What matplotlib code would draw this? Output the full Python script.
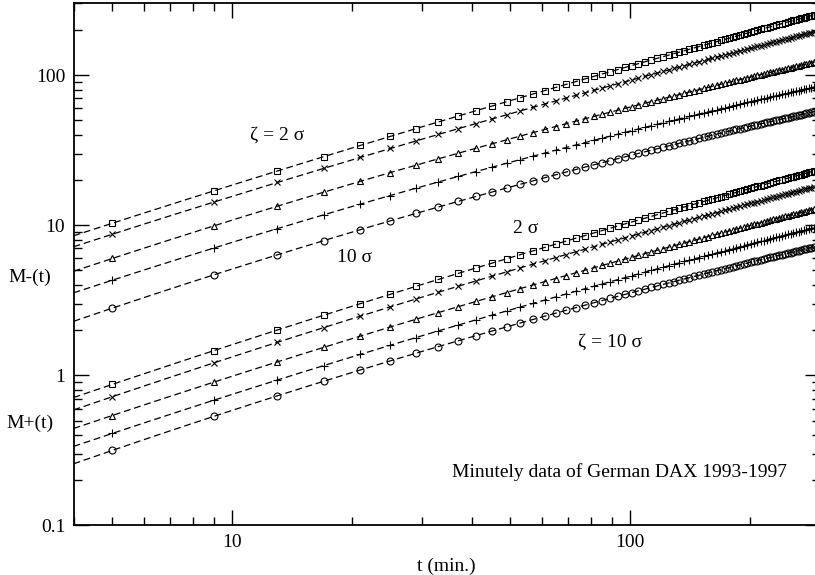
import numpy as np
import matplotlib
matplotlib.use('Agg')
import matplotlib.pyplot as plt
from matplotlib.ticker import LogLocator, NullFormatter

# sampling times (minutes)
t_min = [5, 9, 13, 17, 21, 25, 29, 33, 37, 41, 45, 49, 53, 57, 61, 65, 69, 73,
         77, 81, 85, 89, 93, 97, 101, 105, 109, 113, 117, 121, 125, 129, 133,
         137, 141, 145, 149, 153, 157, 161, 165, 169, 173, 177, 181, 185, 189,
         193, 197, 201, 205, 209, 213, 217, 221, 225, 229, 233, 237, 241, 245,
         249, 253, 257, 261, 265, 269, 273, 277, 281, 285, 289]

# M-(t), zeta = 2,4,6,8,10 sigma (top group)
m_minus_sq = [10.30, 16.93, 22.96, 28.60, 33.95, 39.07, 43.99, 48.74, 53.35, 57.83,
              62.18, 66.48, 70.65, 74.75, 78.77, 82.70, 86.58, 90.41, 94.19, 97.90,
              101.5, 105.2, 108.7, 112.3, 115.7, 119.2, 122.5, 126.0, 129.3, 132.6,
              135.8, 139.1, 142.3, 145.4, 148.6, 151.7, 154.8, 157.9, 160.9, 163.9,
              166.9, 169.9, 172.8, 175.8, 178.7, 181.6, 184.5, 187.3, 190.2, 193.0,
              195.8, 198.6, 201.4, 204.2, 206.9, 209.6, 212.3, 215.0, 217.6, 220.3,
              222.9, 225.6, 228.2, 230.8, 233.3, 235.9, 238.5, 241.1, 243.6, 246.1,
              248.6, 251.2]
m_minus_x = [8.70, 14.25, 19.25, 23.89, 28.27, 32.42, 36.40, 40.22, 43.92, 47.51,
             50.98, 54.37, 57.68, 60.92, 64.07, 67.17, 70.21, 73.18, 76.12, 79.00,
             81.82, 84.61, 87.36, 90.07, 92.75, 95.39, 97.97, 100.6, 103.1, 105.6,
             108.1, 110.6, 113.0, 115.4, 117.8, 120.1, 122.4, 124.7, 127.1, 129.3,
             131.6, 133.8, 136.0, 138.2, 140.4, 142.5, 144.7, 146.8, 148.9, 151.0,
             153.0, 155.1, 157.1, 159.2, 161.2, 163.2, 165.2, 167.2, 169.1, 171.1,
             173.1, 175.0, 176.9, 178.8, 180.7, 182.5, 184.4, 186.3, 188.1, 190.0,
             191.8, 193.6]
m_minus_tri = [6.00, 9.89, 13.38, 16.59, 19.59, 22.42, 25.11, 27.68, 30.16, 32.54,
               34.84, 37.07, 39.24, 41.35, 43.40, 45.39, 47.34, 49.26, 51.13, 52.97,
               54.76, 56.53, 58.28, 59.98, 61.65, 63.30, 64.92, 66.53, 68.09, 69.64,
               71.17, 72.67, 74.18, 75.63, 77.10, 78.52, 79.95, 81.36, 82.72, 84.09,
               85.44, 86.78, 88.08, 89.42, 90.73, 91.99, 93.26, 94.52, 95.79, 97.03,
               98.24, 99.45, 100.7, 101.8, 103.0, 104.2, 105.3, 106.5, 107.6, 108.8,
               109.9, 111.0, 112.2, 113.2, 114.3, 115.4, 116.5, 117.6, 118.6, 119.6,
               120.7, 121.8]
m_minus_plus = [4.30, 7.04, 9.49, 11.73, 13.81, 15.76, 17.63, 19.41, 21.11, 22.76,
                24.34, 25.86, 27.36, 28.80, 30.19, 31.56, 32.90, 34.20, 35.48, 36.73,
                37.95, 39.16, 40.33, 41.49, 42.63, 43.74, 44.84, 45.92, 46.99, 48.04,
                49.08, 50.08, 51.11, 52.09, 53.07, 54.05, 55.00, 55.93, 56.86, 57.79,
                58.69, 59.60, 60.48, 61.38, 62.26, 63.11, 63.96, 64.81, 65.67, 66.47,
                67.30, 68.09, 68.92, 69.71, 70.50, 71.28, 72.06, 72.84, 73.60, 74.37,
                75.12, 75.86, 76.60, 77.34, 78.05, 78.79, 79.50, 80.24, 80.93, 81.64,
                82.33, 83.04]
m_minus_circ = [2.80, 4.67, 6.35, 7.89, 9.33, 10.69, 11.98, 13.21, 14.40, 15.54,
                16.64, 17.70, 18.73, 19.73, 20.70, 21.65, 22.57, 23.47, 24.36, 25.22,
                26.07, 26.91, 27.71, 28.51, 29.29, 30.08, 30.83, 31.58, 32.31, 33.03,
                33.74, 34.44, 35.14, 35.82, 36.50, 37.16, 37.82, 38.46, 39.10, 39.74,
                40.36, 40.98, 41.59, 42.19, 42.80, 43.39, 43.96, 44.54, 45.12, 45.68,
                46.24, 46.78, 47.34, 47.89, 48.43, 48.97, 49.49, 50.03, 50.54, 51.05,
                51.57, 52.08, 52.58, 53.07, 53.57, 54.06, 54.56, 55.04, 55.51, 55.99,
                56.46, 56.94]

# M+(t), bottom group
m_plus_sq = [0.870, 1.460, 2.004, 2.515, 3.002, 3.468, 3.918, 4.353, 4.775, 5.187,
             5.588, 5.980, 6.366, 6.742, 7.112, 7.476, 7.830, 8.182, 8.531, 8.873,
             9.208, 9.539, 9.867, 10.19, 10.51, 10.83, 11.14, 11.45, 11.76, 12.06,
             12.35, 12.65, 12.95, 13.23, 13.52, 13.81, 14.10, 14.38, 14.66, 14.93,
             15.21, 15.48, 15.75, 16.02, 16.29, 16.55, 16.82, 17.08, 17.34, 17.60,
             17.85, 18.11, 18.37, 18.61, 18.86, 19.11, 19.36, 19.60, 19.85, 20.09,
             20.34, 20.57, 20.81, 21.04, 21.28, 21.52, 21.75, 21.99, 22.22, 22.45,
             22.68, 22.91]
m_plus_x = [0.720, 1.210, 1.660, 2.081, 2.479, 2.859, 3.225, 3.578, 3.920, 4.252,
            4.575, 4.890, 5.198, 5.500, 5.794, 6.083, 6.368, 6.647, 6.921, 7.189,
            7.456, 7.718, 7.976, 8.230, 8.480, 8.728, 8.973, 9.215, 9.454, 9.689,
            9.924, 10.15, 10.38, 10.61, 10.83, 11.06, 11.27, 11.49, 11.71, 11.92,
            12.13, 12.34, 12.55, 12.76, 12.96, 13.16, 13.37, 13.57, 13.77, 13.96,
            14.16, 14.35, 14.55, 14.74, 14.93, 15.11, 15.30, 15.49, 15.67, 15.86,
            16.04, 16.22, 16.40, 16.58, 16.76, 16.93, 17.12, 17.29, 17.46, 17.64,
            17.81, 17.98]
m_plus_tri = [0.540, 0.901, 1.229, 1.536, 1.825, 2.101, 2.365, 2.620, 2.865, 3.104,
              3.336, 3.562, 3.782, 3.998, 4.208, 4.415, 4.617, 4.816, 5.011, 5.203,
              5.391, 5.578, 5.761, 5.941, 6.119, 6.295, 6.467, 6.639, 6.808, 6.974,
              7.140, 7.303, 7.466, 7.624, 7.782, 7.940, 8.093, 8.248, 8.401, 8.549,
              8.699, 8.845, 8.993, 9.138, 9.281, 9.424, 9.568, 9.708, 9.847, 9.984,
              10.12, 10.26, 10.39, 10.53, 10.66, 10.79, 10.93, 11.06, 11.18, 11.31,
              11.44, 11.57, 11.70, 11.82, 11.95, 12.07, 12.20, 12.32, 12.44, 12.56,
              12.68, 12.80]
m_plus_plus = [0.410, 0.683, 0.930, 1.162, 1.380, 1.587, 1.786, 1.978, 2.162, 2.342,
               2.516, 2.686, 2.851, 3.013, 3.171, 3.326, 3.478, 3.627, 3.773, 3.917,
               4.058, 4.199, 4.336, 4.471, 4.604, 4.736, 4.865, 4.994, 5.120, 5.245,
               5.369, 5.491, 5.614, 5.732, 5.850, 5.968, 6.083, 6.199, 6.313, 6.424,
               6.536, 6.645, 6.756, 6.865, 6.972, 7.078, 7.186, 7.291, 7.395, 7.497,
               7.599, 7.703, 7.801, 7.906, 8.002, 8.100, 8.204, 8.302, 8.392, 8.488,
               8.586, 8.683, 8.780, 8.870, 8.967, 9.056, 9.154, 9.243, 9.333, 9.423,
               9.511, 9.600]
m_plus_circ = [0.316, 0.533, 0.730, 0.914, 1.086, 1.249, 1.405, 1.555, 1.699, 1.838,
               1.973, 2.104, 2.231, 2.355, 2.476, 2.594, 2.709, 2.822, 2.933, 3.042,
               3.148, 3.253, 3.355, 3.457, 3.556, 3.655, 3.751, 3.846, 3.939, 4.032,
               4.123, 4.213, 4.302, 4.388, 4.476, 4.561, 4.645, 4.729, 4.811, 4.894,
               4.974, 5.055, 5.134, 5.212, 5.289, 5.366, 5.442, 5.518, 5.593, 5.666,
               5.740, 5.813, 5.884, 5.956, 6.027, 6.099, 6.166, 6.236, 6.304, 6.373,
               6.441, 6.508, 6.574, 6.637, 6.703, 6.770, 6.833, 6.899, 6.962, 7.025,
               7.087, 7.149]

series = [m_minus_sq, m_minus_x, m_minus_tri, m_minus_plus, m_minus_circ,
          m_plus_sq, m_plus_x, m_plus_tri, m_plus_plus, m_plus_circ]
markers = ['s', 'x', '^', '+', 'o'] * 2
msizes = {'s': 4.5, 'x': 4.5, '^': 5, '+': 6, 'o': 5}

plt.rcParams['font.family'] = ['Liberation Serif', 'DejaVu Serif']
plt.rcParams['font.size'] = 14

fig = plt.figure(figsize=(8.15, 5.75), dpi=100)
ax = fig.add_axes([0.0903, 0.0861, 0.9158, 0.908])

t_fit = np.logspace(np.log10(4), np.log10(300), 300)
for vals, mk in zip(series, markers):
    # dashed curve: smooth fit of the data in log-log
    coef = np.polyfit(np.log10(t_min), np.log10(vals), 2)
    ax.plot(t_fit, 10 ** np.polyval(coef, np.log10(t_fit)), color='black',
            lw=0.9, ls=(0, (5.5, 3)))
    ax.plot(t_min, vals, ls='none', marker=mk, ms=msizes[mk], mfc='none',
            mec='black', mew=0.8)

ax.set_xscale('log')
ax.set_yscale('log')
ax.set_xlim(4, 300)
ax.set_ylim(0.1, 300)
ax.set_xticks([10, 100])
ax.set_xticklabels(['10', '100'])
ax.set_yticks([0.1, 1, 10, 100])
ax.set_yticklabels(['0.1', '1', '10', '100'])
ax.xaxis.set_minor_locator(LogLocator(base=10, subs=np.arange(2, 10)))
ax.yaxis.set_minor_locator(LogLocator(base=10, subs=np.arange(2, 10)))
ax.xaxis.set_minor_formatter(NullFormatter())
ax.yaxis.set_minor_formatter(NullFormatter())
ax.tick_params(which='both', direction='in', top=True, right=True, width=1)
ax.tick_params(which='major', length=10.8, pad=6)
ax.tick_params(which='minor', length=5.5)
for sp in ax.spines.values():
    sp.set_linewidth(1.3)

ax.set_xlabel('t (min.)', labelpad=5)

ax.text(12.98, 39.8, 'ζ = 2 σ', ha='center', va='center')
ax.text(20.3, 6.12, '10 σ', ha='center', va='center')
ax.text(54.8, 9.55, '2 σ', ha='center', va='center')
ax.text(89.1, 1.66, 'ζ = 10 σ', ha='center', va='center')
ax.text(0.956, 0.1025, 'Minutely data of German DAX 1993-1997',
        transform=ax.transAxes, ha='right', va='center')

fig.text(0.0368, 0.518, 'M-(t)', ha='center', va='center')
fig.text(0.0368, 0.2643, 'M+(t)', ha='center', va='center')

fig.savefig('out.png', dpi=100)
